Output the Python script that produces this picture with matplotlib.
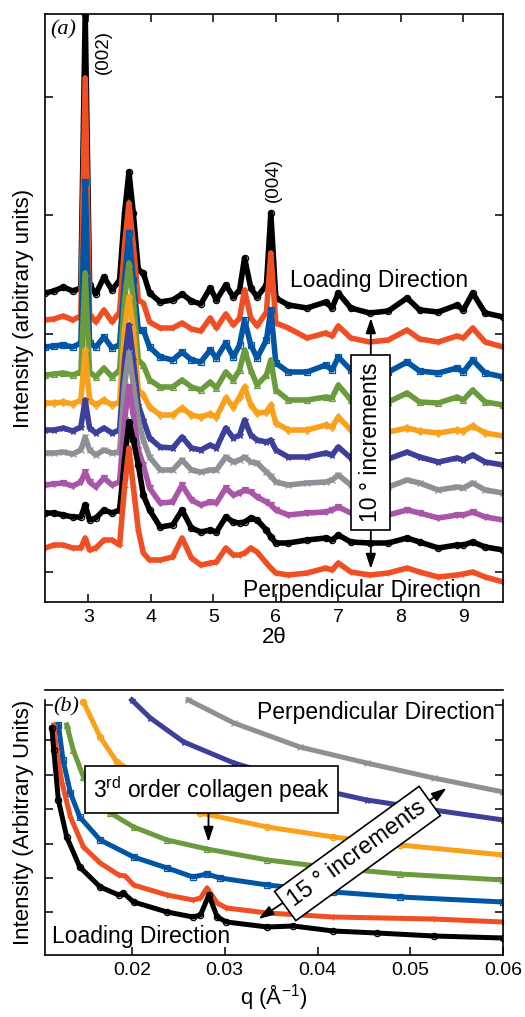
import numpy as np
import matplotlib
matplotlib.use('Agg')
import matplotlib.pyplot as plt

plt.rcParams['font.family'] = ['Liberation Sans', 'DejaVu Sans']
plt.rcParams['mathtext.default'] = 'regular'
plt.rcParams['axes.linewidth'] = 1.2

# ---- panel (a): WAXS, loading -> perpendicular (top -> bottom), arbitrary units
two_theta = [2.31, 2.45, 2.6, 2.75, 2.88, 2.95, 3.02, 3.12, 3.25, 3.38, 3.5, 3.58, 3.65, 3.72,
             3.8, 3.88, 3.98, 4.15, 4.35, 4.5, 4.65, 4.8, 4.95, 5.05, 5.2, 5.32, 5.42, 5.5,
             5.6, 5.7, 5.85, 5.92, 6.0, 6.2, 6.5, 6.8, 6.9, 7.0, 7.2, 7.5, 7.8, 8.1, 8.3,
             8.6, 8.9, 9.0, 9.15, 9.35, 9.64]

waxs_black_1 = [307, 309, 313, 309, 312, 586, 315, 306, 323, 310, 320, 387, 428, 387, 330, 327,
                307, 298, 300, 306, 299, 296, 312, 300, 315, 303, 310, 342, 312, 303, 315, 387,
                302, 295, 292, 298, 292, 307, 292, 287, 289, 302, 290, 288, 295, 290, 307, 287, 283]
waxs_red_1 = [280, 281, 284, 280, 284, 522, 286, 278, 290, 278, 288, 355, 397, 355, 300, 297,
              278, 272, 272, 277, 271, 269, 282, 272, 286, 275, 282, 310, 282, 274, 288, 347,
              277, 272, 262, 267, 264, 274, 262, 258, 260, 270, 261, 258, 264, 262, 272, 258, 253]
waxs_blue = [253, 254, 255, 253, 257, 418, 257, 253, 263, 252, 255, 320, 367, 320, 270, 270,
             253, 243, 240, 248, 240, 238, 250, 242, 257, 243, 255, 280, 255, 242, 260, 290,
             237, 228, 228, 235, 230, 243, 230, 227, 228, 238, 229, 227, 232, 228, 240, 227, 223]
waxs_green = [225, 226, 227, 225, 228, 327, 228, 223, 232, 223, 230, 300, 337, 300, 240, 235,
              220, 213, 213, 220, 213, 210, 218, 212, 228, 220, 230, 250, 230, 215, 225, 240,
              210, 200, 200, 203, 202, 215, 200, 197, 198, 207, 198, 197, 203, 200, 210, 198, 195]
waxs_orange = [197, 197, 198, 196, 200, 250, 200, 195, 200, 195, 198, 270, 303, 270, 210, 205,
               193, 185, 185, 192, 185, 183, 186, 183, 202, 193, 203, 213, 195, 187, 188, 195,
               177, 170, 170, 175, 173, 183, 170, 168, 168, 172, 169, 167, 170, 169, 174, 167, 164]
waxs_indigo = [170, 170, 172, 169, 173, 200, 172, 167, 172, 167, 170, 240, 275, 240, 195, 180,
               162, 153, 152, 163, 152, 150, 155, 152, 172, 162, 165, 180, 165, 160, 158, 160,
               150, 143, 143, 147, 145, 153, 142, 140, 141, 148, 143, 138, 142, 140, 145, 138, 135]
waxs_gray = [147, 147, 148, 146, 150, 163, 150, 145, 150, 147, 148, 215, 247, 215, 180, 160,
             143, 130, 130, 140, 130, 128, 130, 130, 143, 138, 140, 143, 138, 137, 128, 124,
             118, 115, 117, 118, 120, 125, 115, 112, 113, 120, 117, 110, 113, 112, 117, 110, 107]
waxs_magenta = [115, 116, 117, 114, 118, 128, 118, 113, 122, 115, 118, 180, 213, 185, 150, 135,
                112, 97, 98, 115, 100, 95, 98, 97, 112, 105, 107, 110, 108, 103, 98, 95,
                90, 85, 87, 88, 90, 93, 87, 83, 85, 90, 87, 82, 85, 85, 88, 83, 80]
waxs_black_2 = [87, 87, 85, 83, 83, 95, 80, 82, 90, 87, 90, 140, 178, 160, 135, 105,
                90, 73, 75, 90, 72, 68, 70, 68, 83, 78, 77, 78, 82, 80, 70, 63,
                57, 57, 60, 62, 60, 65, 58, 57, 57, 62, 58, 52, 55, 55, 58, 53, 50]
waxs_red_2 = [52, 55, 55, 52, 52, 62, 50, 52, 60, 60, 55, 113, 152, 113, 70, 47,
              40, 40, 43, 62, 42, 35, 37, 38, 52, 45, 45, 47, 52, 48, 37, 32,
              27, 25, 27, 32, 30, 37, 28, 25, 27, 32, 28, 23, 25, 26, 28, 23, 18]

# ---- panel (b): SAXS, loading (bottom) -> perpendicular (top)
q_black = [0.0114, 0.0116, 0.0121, 0.0130, 0.0144, 0.0166, 0.0186, 0.0191, 0.0202, 0.0238, 0.0266,
           0.0274, 0.0283, 0.0292, 0.0302, 0.0346, 0.0374, 0.0417, 0.0464, 0.0525, 0.0600]
saxs_black = [227, 205, 155, 118, 88, 68, 60, 62, 53, 43, 38, 40, 60, 38, 33, 28, 29, 24, 22, 19, 17]
q_red = [0.0116, 0.0119, 0.0125, 0.0134, 0.0148, 0.0166, 0.0186, 0.0193, 0.0202, 0.0238, 0.0266,
         0.0274, 0.0281, 0.0292, 0.0302, 0.0346, 0.0417, 0.0525, 0.0600]
saxs_red = [230, 205, 172, 138, 108, 92, 80, 79, 70, 60, 55, 57, 67, 52, 47, 42, 38, 36, 33]
q_blue = [0.0121, 0.0126, 0.0134, 0.0144, 0.0166, 0.0202, 0.0238, 0.0266, 0.0281, 0.0295,
          0.0346, 0.0417, 0.0489, 0.0600]
saxs_blue = [230, 195, 162, 138, 115, 98, 87, 78, 81, 77, 70, 63, 58, 53]
q_green = [0.0130, 0.0137, 0.0148, 0.0177, 0.0202, 0.0238, 0.0281, 0.0346, 0.0417, 0.0489, 0.0600]
saxs_green = [230, 205, 178, 142, 128, 115, 106, 95, 87, 81, 75]
q_orange = [0.0148, 0.0166, 0.0184, 0.0274, 0.0346, 0.0417, 0.0489, 0.0600]
saxs_orange = [253, 218, 193, 142, 128, 118, 110, 100]
q_indigo = [0.0200, 0.0220, 0.0256, 0.0310, 0.0419, 0.0453, 0.0525, 0.0600]
saxs_indigo = [255, 237, 213, 192, 162, 155, 145, 135]
q_gray = [0.0261, 0.0310, 0.0381, 0.0453, 0.0525, 0.0600]
saxs_gray = [255, 232, 208, 192, 177, 163]

BLACK = '#000000'
RED = '#f04e23'
BLUE = '#0055a5'
GREEN = '#6a9b3c'
ORANGE = '#f9a11b'
INDIGO = '#3d3f9a'
GRAY = '#8d9094'
MAGENTA = '#a955a8'


def draw_curve(ax, x, y, color, marker, lw=4.0):
    ax.plot(x, y, color=color, lw=lw, marker=marker, ms=4.5, mfc='none', mew=0.9,
            solid_joinstyle='round')


def boxed(ax, x, y, text, rot, size=16, pad=0.3):
    ax.text(x, y, text, rotation=rot, ha='center', va='center', fontsize=size,
            rotation_mode='anchor', zorder=6,
            bbox=dict(boxstyle=f'square,pad={pad}', fc='white', ec='black', lw=1.2))


def arrow(ax, tail, tip):
    ax.annotate('', xy=tip, xytext=tail, zorder=5,
                arrowprops=dict(arrowstyle='-|>,head_length=0.9,head_width=0.3',
                                color='black', lw=1.3, shrinkA=0, shrinkB=0))


fig = plt.figure(figsize=(5.25, 10.17), dpi=100)

# ---------------- (a)
ax = fig.add_axes([45 / 525, 415 / 1017, 458 / 525, 588 / 1017])
waxs = [(waxs_black_1, BLACK, 'o'), (waxs_red_1, RED, '+'), (waxs_blue, BLUE, 's'),
        (waxs_green, GREEN, '^'), (waxs_orange, ORANGE, 'd'), (waxs_indigo, INDIGO, '*'),
        (waxs_gray, GRAY, 'x'), (waxs_magenta, MAGENTA, 'v'), (waxs_black_2, BLACK, 'o'),
        (waxs_red_2, RED, '+')]
for y, c, m in waxs:
    draw_curve(ax, two_theta, y, c, m)

ax.set_xlim(2.307, 9.635)
ax.set_ylim(-2, 586)
ax.set_xticks([3, 4, 5, 6, 7, 8, 9])
ax.set_yticks([28, 147, 266, 385, 503])
ax.tick_params(direction='in', length=6, width=1.1, labelsize=14, top=True, right=True,
               labelleft=False, pad=5)
ax.set_xlabel('2θ', fontsize=16, labelpad=1)
ax.set_ylabel('Intensity (arbitrary units)', fontsize=16, labelpad=8)

ax.text(2.39, 570, '(a)', fontsize=16, family='Liberation Serif', style='italic',
        va='center', ha='left')
ax.text(3.235, 548, '(002)', rotation=90, fontsize=13.5, ha='center', va='center')
ax.text(5.96, 420, '(004)', rotation=90, fontsize=13.5, ha='center', va='center')
ax.text(6.227, 320, 'Loading Direction', fontsize=16.5, ha='left', va='center', zorder=6)
ax.text(5.475, 10, 'Perpendicular Direction', fontsize=16.5, ha='left', va='center', zorder=6)
arrow(ax, (7.52, 157), (7.52, 282))
arrow(ax, (7.52, 157), (7.52, 31))
boxed(ax, 7.52, 157.5, '10 ° increments', 90, size=16.5, pad=0.35)

# ---------------- (b)
bx = fig.add_axes([45 / 525, 62 / 1017, 458.3 / 525, 265 / 1017])
saxs = [(q_gray, saxs_gray, GRAY, 'x'), (q_indigo, saxs_indigo, INDIGO, '*'),
        (q_orange, saxs_orange, ORANGE, 'o'), (q_green, saxs_green, GREEN, '^'),
        (q_blue, saxs_blue, BLUE, 's'), (q_red, saxs_red, RED, '+'),
        (q_black, saxs_black, BLACK, 'o')]
for q, y, c, m in saxs:
    draw_curve(bx, q, y, c, m, lw=3.6)

bx.set_xlim(0.01066, 0.0600)
bx.set_ylim(0, 265)
bx.set_xticks([0.02, 0.03, 0.04, 0.05, 0.06])
bx.set_xticklabels(['0.02', '0.03', '0.04', '0.05', '0.06'])
bx.set_yticks([42.7, 77, 111.5, 146, 180.5, 215, 250])
bx.tick_params(direction='in', length=6, width=1.1, labelsize=14, top=False, right=True,
               labelleft=False, pad=5)
bx.spines['left'].set_bounds(0, 255)
bx.spines['right'].set_bounds(0, 255)
bx.set_xlabel('q (Å$^{-1}$)', fontsize=16, labelpad=2)
bx.set_ylabel('Intensity (Arbitrary Units)', fontsize=16, labelpad=8)

bx.text(0.01152, 248, '(b)', fontsize=16, family='Liberation Serif', style='italic',
        va='center', ha='left')
bx.text(0.0335, 243, 'Perpendicular Direction', fontsize=16.5, ha='left', va='center')
bx.text(0.01141, 19, 'Loading Direction', fontsize=16.5, ha='left', va='center')
arrow(bx, (0.02826, 160), (0.02826, 113))
boxed(bx, 0.02857, 165.5, '3$^{rd}$ order collagen peak', 0, size=16.5, pad=0.35)
arrow(bx, (0.0443, 101.5), (0.03365, 36))
arrow(bx, (0.0443, 101.5), (0.0539, 167))
boxed(bx, 0.0443, 101.5, '15 ° increments', 36, size=17, pad=0.3)

fig.savefig('out.png', dpi=100)
